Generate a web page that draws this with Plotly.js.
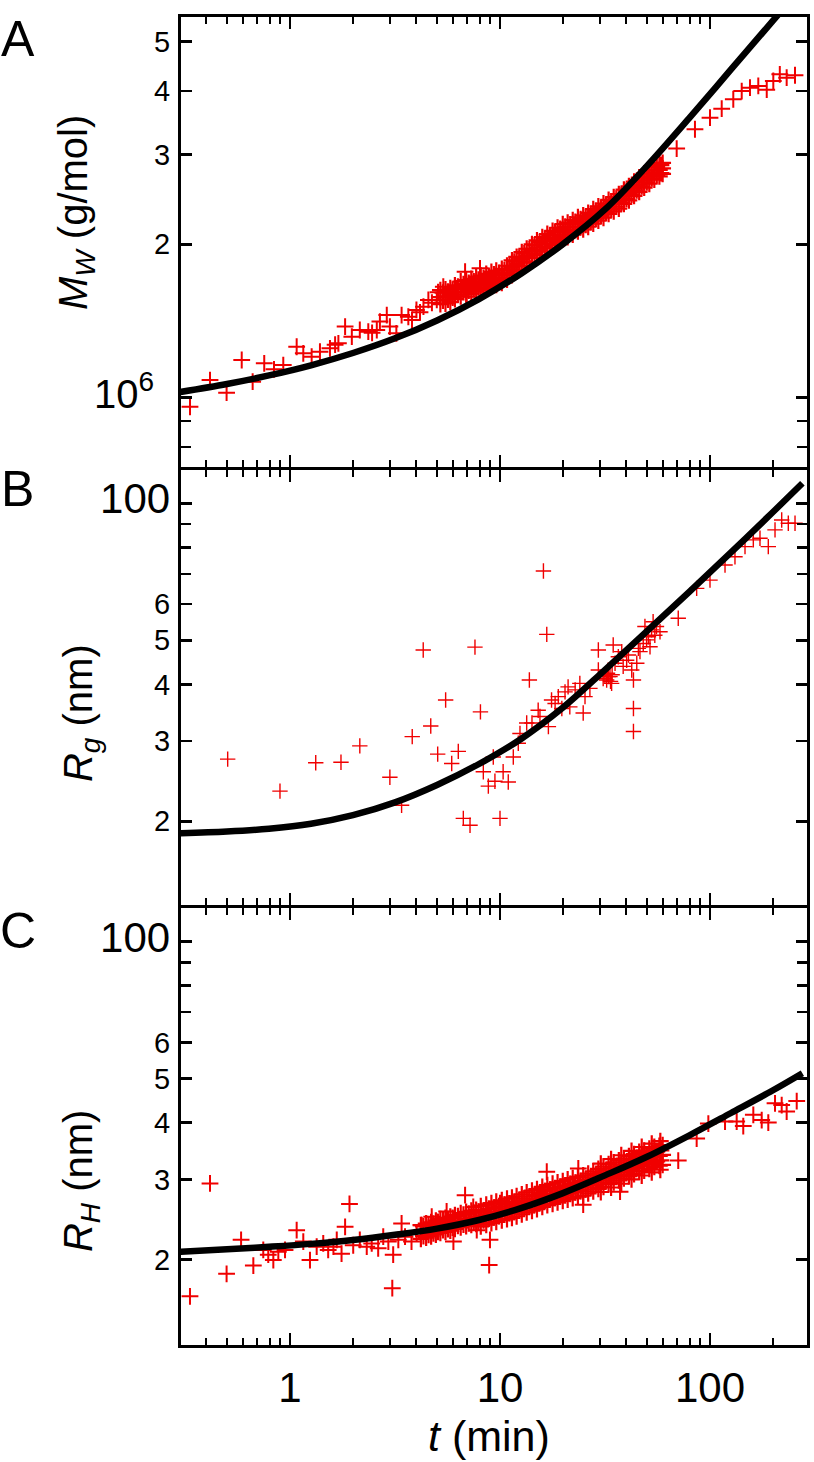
<!DOCTYPE html>
<html><head><meta charset="utf-8">
<script src="https://cdn.plot.ly/plotly-3.0.1.min.js"></script>
<style>body{margin:0;background:#fff}</style>
</head><body><div id="chart" style="width:814px;height:1462px"></div>
<script>
// ---------- Panel A : Mw (g/mol) vs t (min) ----------
const A_t = [0.334,0.416,0.499,0.589,0.664,0.754,0.839,0.929,1.076,1.157,1.268,1.389,1.55,1.70,1.83,1.97,2.15,2.36,2.59,2.89,2.99,3.21,3.40,3.66,4.0,4.32,4.56,5.0,5.37,5.78,6.22,6.82,6.94,7.47,8.03,8.34,1.64,2.46,2.68,3.81,4.16,4.74,5.07,69.4,84.8,100,113.7,129.1,141.6,155,169.8,186.3,200.2,215,231.8,254];
const A_M = [0.959e6,1.082e6,1.022e6,1.185e6,1.074e6,1.167e6,1.136e6,1.158e6,1.258e6,1.221e6,1.203e6,1.230e6,1.249e6,1.278e6,1.378e6,1.317e6,1.357e6,1.347e6,1.357e6,1.452e6,1.378e6,1.337e6,1.452e6,1.441e6,1.486e6,1.508e6,1.555e6,1.555e6,1.651e6,1.602e6,1.639e6,1.767e6,1.578e6,1.651e6,1.794e6,1.626e6,1.27e6,1.34e6,1.41e6,1.42e6,1.47e6,1.535e6,1.61e6,3.083e6,3.365e6,3.546e6,3.693e6,3.854e6,4.0e6,4.061e6,4.093e6,4.024e6,4.186e6,4.315e6,4.249e6,4.296e6];
const A_band_t = [5.2,5.5,5.8,6.1,6.5,6.9,7.3,7.7,8.1,8.6,9.1,9.6,10.2,10.8,11.4,12.0,12.7,13.4,14.2,15.0,15.9,16.8,17.8,18.8,19.9,21.0,22.2,23.5,24.9,26.3,27.8,29.4,31.1,32.9,34.8,36.8,38.9,41.1,43.5,46.0,48.6,51.4,54.3,57.4,59.5];
const A_band_mid = [1.575e6,1.58e6,1.59e6,1.61e6,1.635e6,1.645e6,1.655e6,1.67e6,1.68e6,1.695e6,1.71e6,1.72e6,1.735e6,1.76e6,1.80e6,1.83e6,1.87e6,1.90e6,1.94e6,1.97e6,2.00e6,2.03e6,2.06e6,2.09e6,2.12e6,2.135e6,2.16e6,2.19e6,2.21e6,2.235e6,2.27e6,2.30e6,2.33e6,2.37e6,2.40e6,2.43e6,2.48e6,2.52e6,2.575e6,2.62e6,2.67e6,2.72e6,2.77e6,2.80e6,2.82e6];
const A_band_lo = [1.525e6,1.53e6,1.54e6,1.56e6,1.58e6,1.595e6,1.60e6,1.615e6,1.63e6,1.64e6,1.655e6,1.665e6,1.68e6,1.705e6,1.74e6,1.77e6,1.81e6,1.84e6,1.88e6,1.905e6,1.935e6,1.965e6,1.995e6,2.02e6,2.05e6,2.065e6,2.09e6,2.12e6,2.14e6,2.165e6,2.195e6,2.225e6,2.255e6,2.295e6,2.32e6,2.35e6,2.40e6,2.44e6,2.49e6,2.535e6,2.585e6,2.63e6,2.68e6,2.72e6,2.75e6];
const A_band_hi = [1.625e6,1.63e6,1.64e6,1.66e6,1.69e6,1.70e6,1.71e6,1.725e6,1.735e6,1.75e6,1.765e6,1.775e6,1.79e6,1.815e6,1.86e6,1.89e6,1.93e6,1.96e6,2.00e6,2.035e6,2.065e6,2.095e6,2.125e6,2.155e6,2.19e6,2.205e6,2.23e6,2.26e6,2.28e6,2.305e6,2.345e6,2.375e6,2.405e6,2.445e6,2.475e6,2.51e6,2.56e6,2.60e6,2.655e6,2.705e6,2.755e6,2.805e6,2.855e6,2.88e6,2.89e6];
const A_band2_t = [5.35,5.65,5.95,6.3,6.7,7.1,7.5,7.9,8.35,8.85,9.35,9.9,10.5,11.1,11.7,12.35,13.05,13.8,14.6,15.45,16.35,17.3,18.3,19.35,20.45,21.6,22.85,24.2,25.6,27.05,28.6,30.25,32.0,33.85,35.8,37.85,40.0,42.3,44.75,47.3,50.0,52.8,55.8,58.4];
const A_band2_hi = [1.606e6,1.614e6,1.628e6,1.652e6,1.67e6,1.68e6,1.69e6,1.705e6,1.718e6,1.733e6,1.746e6,1.758e6,1.78e6,1.812e6,1.848e6,1.883e6,1.918e6,1.955e6,1.99e6,2.02e6,2.052e6,2.082e6,2.112e6,2.143e6,2.166e6,2.187e6,2.214e6,2.24e6,2.262e6,2.292e6,2.326e6,2.357e6,2.392e6,2.428e6,2.458e6,2.499e6,2.545e6,2.594e6,2.645e6,2.693e6,2.743e6,2.794e6,2.835e6,2.86e6];
const A_band2_lo = [1.551e6,1.557e6,1.572e6,1.593e6,1.611e6,1.621e6,1.633e6,1.645e6,1.658e6,1.672e6,1.685e6,1.697e6,1.717e6,1.749e6,1.783e6,1.817e6,1.852e6,1.886e6,1.92e6,1.95e6,1.979e6,2.009e6,2.038e6,2.068e6,2.09e6,2.11e6,2.136e6,2.161e6,2.183e6,2.212e6,2.245e6,2.274e6,2.308e6,2.343e6,2.372e6,2.411e6,2.456e6,2.503e6,2.552e6,2.598e6,2.647e6,2.696e6,2.736e6,2.76e6];
const A_fit_t = [0.299,0.501,0.794,1.259,1.995,3.162,5.012,7.943,12.59,19.95,31.62,50.12,79.43,125.9,199.5,281.8];
const A_fit_M = [1.025e6,1.063e6,1.105e6,1.157e6,1.223e6,1.307e6,1.417e6,1.561e6,1.751e6,2.002e6,2.341e6,2.851e6,3.535e6,4.41e6,5.50e6,6.49e6];

// ---------- Panel B : Rg (nm) ----------
const B_t = [0.505,0.896,1.326,1.749,2.15,2.99,3.40,3.82,4.31,4.68,5.05,5.51,5.89,6.33,6.69,7.20,7.60,8.07,8.33,8.80,9.29,9.46,10.0,10.35,10.95,11.57,12.22,12.45,13.4,13.8,14.2,15.2,15.5,16.1,16.7,17.0,17.6,18.3,18.95,19.7,20.4,21.1,21.5,22.8,24.0,24.9,25.4,26.8,29.4,29.4,31.6,32.2,32.8,33.4,34.0,34.6,35.3,36.6,38.0,38.6,40.1,40.9,42.4,43.2,43.2,43.2,44.8,45.6,46.4,48.1,49.0,49.9,50.9,51.8,52.7,53.6,54.6,55.6,57.8,70.6,86.4,100,117.9,131.5,146.8,160.8,173,189.5,204,219.5,236,254,31.0,32.5,33.6,34.2];
const B_R = [27.4,23.3,26.9,26.97,29.3,25.0,21.7,30.7,47.6,32.4,28.1,36.96,26.8,28.5,20.3,19.6,48.3,34.8,25.7,23.9,27.7,24.5,20.3,25.7,24.4,27.7,29.7,31.2,32.9,40.9,32.9,35.1,34.0,71.0,51.5,32.3,36.96,36.3,37.6,35.4,38.5,39.5,35.7,38.9,40.2,34.6,37.6,39.2,43.0,47.6,41.9,40.9,41.6,41.6,40.2,48.8,44.5,46.0,47.2,43.8,45.2,46.4,43.0,40.9,35.4,31.5,44.5,48.0,47.2,49.2,53.6,50.1,50.9,48.4,52.7,54.9,51.3,53.6,52.2,55.9,65.0,67.8,73.2,76.3,80.3,83.1,83.8,80.3,87.4,91.9,90.4,90.4,41.2,42.3,40.6,42.0];
const B_fit_t = [0.299,0.501,0.794,1.259,1.995,3.162,5.012,7.943,12.59,19.95,31.62,50.12,79.43,125.9,199.5,275.4];
const B_fit_R = [18.83,18.99,19.26,19.75,20.63,22.01,24.04,26.73,30.34,35.56,43.05,52.36,63.83,77.98,95.7,110.7];

// ---------- Panel C : RH (nm) ----------
const C_t = [0.334,0.416,0.499,0.585,0.669,0.746,0.788,0.833,0.880,0.947,1.076,1.157,1.245,1.34,1.44,1.52,1.61,1.67,1.76,1.83,1.92,2.0,2.15,2.32,2.45,2.63,2.78,2.94,3.10,3.07,3.28,3.40,3.53,3.79,4.01,4.24,4.48,4.73,4.99,5.37,5.57,6.0,6.34,6.82,7.07,7.46,7.75,8.18,8.88,8.96,9.45,10.0,10.56,16.7,23.6,24.9,37.3,70.6,86.4,98.2,117.9,134,144,160.8,176.3,189.5,204,219.5,231.8,258.8];
const C_R = [16.6,29.4,18.6,22.1,19.4,21.0,20.5,19.95,20.8,21.0,23.2,21.9,19.95,21.35,21.7,21.0,21.35,22.1,20.6,23.6,26.5,21.5,22.1,21.35,21.7,21.17,22.45,21.9,20.5,17.3,22.1,24.0,22.45,21.9,22.85,23.8,23.2,24.85,23.6,24.4,25.5,21.9,24.0,27.7,24.4,26.1,23.2,25.5,19.45,22.1,25.3,26.6,25.9,31.2,31.7,26.4,28.2,33.0,36.9,39.8,40.2,40.2,39.3,41.6,40.5,40.0,44.1,43.7,42.3,44.6];
const C_band_t = [4.2,4.45,4.7,4.95,5.2,5.5,5.8,6.1,6.5,6.9,7.3,7.7,8.1,8.6,9.1,9.6,10.2,10.8,11.4,12.0,12.7,13.4,14.2,15.0,15.9,16.8,17.8,18.8,19.9,21.0,22.2,23.5,24.9,26.3,27.8,29.4,31.1,32.9,34.8,36.8,38.9,41.1,43.5,46.0,48.6,51.4,54.3,57.4,59.5];
const C_band_mid = [23.0,23.15,23.3,23.5,23.7,23.85,24.0,24.2,24.4,24.55,24.7,24.8,24.9,25.1,25.3,25.45,25.65,25.85,26.0,26.2,26.45,26.7,26.95,27.15,27.45,27.7,27.9,28.1,28.3,28.5,28.7,28.9,29.1,29.4,29.7,30.1,30.4,30.8,31.1,31.4,31.7,32.1,32.4,32.8,33.0,33.3,33.6,33.8,33.95];
const C_band_lo = [22.2,22.35,22.5,22.7,22.9,23.0,23.15,23.35,23.55,23.7,23.85,23.95,23.65,23.85,24.05,24.2,24.4,24.55,24.7,24.9,25.15,25.4,25.6,25.8,26.1,26.35,26.5,26.7,26.9,27.1,27.3,27.5,27.65,27.95,28.25,28.6,28.9,29.3,29.55,29.85,30.15,30.5,30.8,31.2,31.35,31.65,31.95,32.15,32.3];
const C_band_hi = [23.8,24.0,24.15,24.35,24.55,24.7,24.85,25.05,25.3,25.45,25.6,25.7,26.2,26.4,26.6,26.8,27.0,27.2,27.35,27.55,27.8,28.1,28.35,28.55,28.9,29.15,29.35,29.55,29.75,30.0,30.2,30.4,30.6,30.9,31.25,31.65,32.0,32.4,32.7,33.05,33.35,33.75,34.1,34.5,34.7,35.05,35.35,35.55,35.7];
const C_band2_t = [4.32,4.57,4.82,5.07,5.35,5.65,5.95,6.3,6.7,7.1,7.5,7.9,8.35,8.85,9.35,9.9,10.5,11.1,11.7,12.35,13.05,13.8,14.6,15.45,16.35,17.3,18.3,19.35,20.45,21.6,22.85,24.2,25.6,27.05,28.6,30.25,32.0,33.85,35.8,37.85,40.0,42.3,44.75,47.3,50.0,52.8,55.8,58.4];
const C_band2_hi = [23.66,23.8,23.99,24.19,24.37,24.52,24.7,24.91,25.09,25.24,25.37,25.47,25.63,25.83,26.01,26.19,26.39,26.57,26.75,26.98,27.24,27.49,27.73,27.98,28.27,28.5,28.7,28.9,29.11,29.32,29.52,29.73,29.98,30.29,30.65,31.01,31.37,31.72,32.03,32.34,32.7,33.06,33.42,33.72,33.98,34.29,34.54,34.73];
const C_band2_lo = [22.52,22.65,22.83,23.02,23.2,23.34,23.51,23.71,23.88,24.02,24.15,24.24,24.39,24.59,24.76,24.93,25.12,25.29,25.46,25.68,25.93,26.17,26.39,26.63,26.91,27.12,27.32,27.51,27.71,27.9,28.1,28.29,28.54,28.83,29.17,29.51,29.85,30.2,30.49,30.78,31.12,31.46,31.8,32.1,32.34,32.63,32.88,33.05];
const C_edge_t = [30.2,33.8,37.8,42.3,47.3,52.8,58.0];
const C_edge_hi = [32.5,33.25,33.9,34.65,35.35,35.95,36.4];
const C_edge_lo = [28.15,28.8,29.35,30.0,30.6,31.1,31.5];
const C_fit_t = [0.299,0.501,0.794,1.259,1.995,3.162,5.012,7.943,12.59,19.95,31.62,50.12,79.43,125.9,199.5,275.4];
const C_fit_R = [20.8,21.06,21.33,21.65,22.08,22.67,23.39,24.43,25.94,27.99,30.62,33.65,37.46,41.98,47.1,51.34];

// ---------- ticks ----------
const X_TICKS = [1, 10, 100];
const X_TICK_TEXT = ['1', '10', '100'];
const X_MINOR = [0.4,0.5,0.6,0.7,0.8,0.9,2,3,4,5,6,7,8,9,20,30,40,50,60,70,80,90,200];
const A_TICKS = [1e6, 2e6, 3e6, 4e6, 5e6];
const A_TICK_TEXT = ['<span style="font-size:40px">10<sup>6</sup></span>\u00a0\u00a0', '2', '3', '4', '5'];
const A_MINOR = [8e5, 9e5];
const R_TICKS = [20, 30, 40, 50, 60, 100];
const R_TICK_TEXT = ['2', '3', '4', '5', '6', '<span style="font-size:42px">100</span>'];
const R_MINOR = [70, 80, 90];

const RED = 'rgb(240,0,0)';
function pts(x, y, xa, ya, size, w) {
  return {type:'scatter', mode:'markers', x:x, y:y, xaxis:xa, yaxis:ya, hoverinfo:'skip',
    marker:{symbol:'cross-thin', size:size, color:RED, line:{color:RED, width:w}}};
}
function fit(x, y, xa, ya) {
  return {type:'scatter', mode:'lines', x:x, y:y, xaxis:xa, yaxis:ya, hoverinfo:'skip',
    line:{color:'black', width:6.5, shape:'spline', smoothing:1.0}};
}
const data = [
  pts(A_t, A_M, 'x', 'y', 12, 2),
  pts(A_band_t, A_band_lo, 'x', 'y', 12, 2.2),
  pts(A_band_t, A_band_mid, 'x', 'y', 12, 2.2),
  pts(A_band_t, A_band_hi, 'x', 'y', 12, 2.2),
  pts(A_band2_t, A_band2_lo, 'x', 'y', 12, 2.2),
  pts(A_band2_t, A_band2_hi, 'x', 'y', 12, 2.2),
  fit(A_fit_t, A_fit_M, 'x', 'y'),
  pts(B_t, B_R, 'x2', 'y2', 11, 1.4),
  fit(B_fit_t, B_fit_R, 'x2', 'y2'),
  pts(C_t, C_R, 'x3', 'y3', 12, 2),
  pts(C_band_t, C_band_lo, 'x3', 'y3', 12, 2.2),
  pts(C_band_t, C_band_mid, 'x3', 'y3', 12, 2.2),
  pts(C_band_t, C_band_hi, 'x3', 'y3', 12, 2.2),
  pts(C_band2_t, C_band2_lo, 'x3', 'y3', 12, 2.2),
  pts(C_band2_t, C_band2_hi, 'x3', 'y3', 12, 2.2),
  pts(C_edge_t, C_edge_lo, 'x3', 'y3', 12, 2.2),
  pts(C_edge_t, C_edge_hi, 'x3', 'y3', 12, 2.2),
  fit(C_fit_t, C_fit_R, 'x3', 'y3')
];

function xax(anchor, labels) {
  return {type:'log', range:[-0.519, 2.4619], domain:[0, 1], anchor:anchor,
    showline:true, linecolor:'black', linewidth:3, mirror:'ticks',
    ticks:'inside', ticklen:12, tickwidth:2.5, tickcolor:'black',
    tickmode:'array', tickvals:X_TICKS, ticktext:X_TICK_TEXT,
    showticklabels:labels, tickfont:{size:42, color:'black'}, ticklabelstandoff:4,
    showgrid:false, zeroline:false,
    minor:{tickmode:'array', tickvals:X_MINOR, ticks:'inside', ticklen:7, tickwidth:2, tickcolor:'black', showgrid:false}};
}
function yax(anchor, range, domain, vals, text, minor) {
  return {type:'log', range:range, domain:domain, anchor:anchor,
    showline:true, linecolor:'black', linewidth:3, mirror:'ticks',
    ticks:'inside', ticklen:11, tickwidth:2.5, tickcolor:'black',
    tickmode:'array', tickvals:vals, ticktext:text,
    tickfont:{size:29, color:'black'}, ticklabelstandoff:2,
    showgrid:false, zeroline:false,
    minor:{tickmode:'array', tickvals:minor, ticks:'inside', ticklen:10, tickwidth:2.5, tickcolor:'black', showgrid:false}};
}

const layout = {
  width:814, height:1462,
  margin:{l:181, r:7, t:17, b:117},
  paper_bgcolor:'white', plot_bgcolor:'white', showlegend:false,
  font:{family:'"Liberation Sans", Arial, sans-serif', color:'black'},
  xaxis: xax('y', false),
  xaxis2: xax('y2', false),
  xaxis3: xax('y3', true),
  yaxis: yax('x', [5.8625, 6.7475], [0.66077, 1], A_TICKS, A_TICK_TEXT, A_MINOR),
  yaxis2: yax('x2', [1.116, 2.0721], [0.33095, 0.65851], R_TICKS, R_TICK_TEXT, R_MINOR),
  yaxis3: yax('x3', [1.1132, 2.0725], [0, 0.32869], R_TICKS, R_TICK_TEXT, R_MINOR),
  annotations:[
    {text:'A', xref:'paper', yref:'paper', x:-0.2604, y:0.9834, xanchor:'center', yanchor:'middle', showarrow:false, font:{size:50}},
    {text:'B', xref:'paper', yref:'paper', x:-0.2604, y:0.6446, xanchor:'center', yanchor:'middle', showarrow:false, font:{size:50}},
    {text:'C', xref:'paper', yref:'paper', x:-0.2604, y:0.3117, xanchor:'center', yanchor:'middle', showarrow:false, font:{size:50}},
    {text:'<i>M</i><sub><i>W</i></sub> (g/mol)', textangle:-90, xref:'paper', yref:'paper', x:-0.1677, y:0.8524, xanchor:'center', yanchor:'middle', showarrow:false, font:{size:40}},
    {text:'<i>R</i><sub><i>g</i></sub> (nm)', textangle:-90, xref:'paper', yref:'paper', x:-0.1597, y:0.4759, xanchor:'center', yanchor:'middle', showarrow:false, font:{size:40}},
    {text:'<i>R</i><sub><i>H</i></sub> (nm)', textangle:-90, xref:'paper', yref:'paper', x:-0.1597, y:0.1235, xanchor:'center', yanchor:'middle', showarrow:false, font:{size:40}},
    {text:'<i>t</i> (min)', xref:'paper', yref:'paper', x:0.4920, y:-0.0878, xanchor:'center', yanchor:'bottom', showarrow:false, font:{size:43}}
  ]
};
Plotly.newPlot('chart', data, layout, {staticPlot:true, displayModeBar:false});
</script>
</body></html>
